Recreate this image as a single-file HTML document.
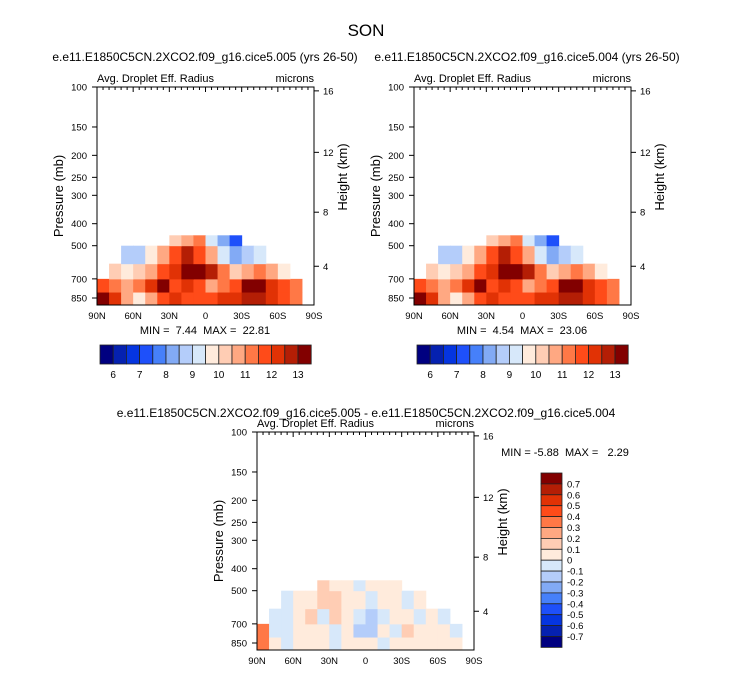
<!DOCTYPE html>
<html><head><meta charset="utf-8">
<style>
html,body{margin:0;padding:0;background:#fff;}
svg{display:block;font-family:"Liberation Sans",Arial,sans-serif;}
</style></head>
<body>
<svg id="fig" width="733" height="673" viewBox="0 0 733 673" xmlns="http://www.w3.org/2000/svg">
<rect width="733" height="673" fill="#fff"/>
<text x="366" y="36" font-size="17" text-anchor="middle">SON</text>
<text x="205" y="61" font-size="12" text-anchor="middle">e.e11.E1850C5CN.2XCO2.f09_g16.cice5.005 (yrs 26-50)</text>
<text x="527" y="61" font-size="12" text-anchor="middle">e.e11.E1850C5CN.2XCO2.f09_g16.cice5.004 (yrs 26-50)</text>
<text x="366" y="417" font-size="12" text-anchor="middle">e.e11.E1850C5CN.2XCO2.f09_g16.cice5.005 - e.e11.E1850C5CN.2XCO2.f09_g16.cice5.004</text>
</svg>
<script>
// ---- data ----
const latEdges = [90,80,70,60,50,40,30,20,10,0,-10,-20,-30,-40,-50,-60,-70,-80,-90];
const presEdges = [912,800,700,600,500,450];
const latTicks = [90,60,30,0,-30,-60,-90];
const latTickLabels = ["90N","60N","30N","0","30S","60S","90S"];
const presTicks = [100,150,200,250,300,400,500,700,850];
const heightTicks = [4,8,12,16];
const heightTickPres = [616,356,194,104];
const absLevels = [6,6.5,7,7.5,8,8.5,9,9.5,10,10.5,11,11.5,12,12.5,13];
const absLabels = ["6","7","8","9","10","11","12","13"];
const diffLevels = [-0.7,-0.6,-0.5,-0.4,-0.3,-0.2,-0.1,0,0.1,0.2,0.3,0.4,0.5,0.6,0.7];
const palette = ["#000080","#0521b0","#0535e0","#1e50fa","#4680fa","#82aaf5","#b4cdfa","#d7e8fa","#ffebdc","#ffcdb4","#ffa882","#ff7846","#ff4b19","#e13205","#b41e05","#820000"];
const diffPalette = ["#820000","#b41e05","#e13205","#ff4b19","#ff7846","#ffa882","#ffcdb4","#ffebdc","#d7e8fa","#b4cdfa","#82aaf5","#4680fa","#1e50fa","#0535e0","#0521b0","#000080"];
const caseA_L0 = [13,12,10.5,9.5,10.5,11.5,12,11.5,11.5,11.5,12,12,12.5,12.5,12,11.5,11,null];
const caseA_L1 = [11.5,11,10.5,11,12,13,11.5,12,11.5,10.5,11,11.5,13,13,12,11.5,11,null];
const caseA_L2 = [null,10,9.5,10,10.5,11.5,12,13,13,12.5,11,10,10.5,11,10.5,9.5,null,null];
const caseA_L3 = [null,null,8.5,8.5,9.5,10.5,11.5,12.5,11.5,10.5,9,8,8.5,9,null,null,null,null];
const caseA_L4 = [null,null,null,null,null,null,10,10.5,11,9,8,7,null,null,null,null,null,null];
const caseB_L0 = [13,12,10.5,9.5,10.5,11.5,12,11.5,11.5,11.5,12,12,12.5,12.5,12,11.5,11,null];
const caseB_L1 = [11.5,11,10.5,11,12,13,11.5,12,11.5,10.5,11,11.5,13,13,12,11.5,11,null];
const caseB_L2 = [null,10,9.5,10,10.5,11.5,12,13,13,12.5,11,10,10.5,11,10.5,9.5,null,null];
const caseB_L3 = [null,null,8.5,8.5,9.5,10.5,11.5,12.5,11.5,10.5,9,8,8.5,9,null,null,null,null];
const caseB_L4 = [null,null,null,null,null,null,10,10.5,11,9,8,7,null,null,null,null,null,null];
const diff_L0 = [0.3,0.05,-0.05,0.05,0.05,0.05,-0.05,0.05,0.05,0.05,-0.05,0.05,0.05,0.05,0.05,0.05,0.05,null];
const diff_L1 = [0.3,-0.05,-0.05,0.05,0.05,0.05,-0.05,0.05,-0.2,-0.15,0.05,-0.05,0.1,0.05,0.05,0.05,-0.05,null];
const diff_L2 = [null,-0.1,-0.05,0.05,0.15,-0.05,0.1,0.05,-0.1,-0.2,-0.05,0.05,0.05,-0.05,0.05,-0.05,null,null];
const diff_L3 = [null,null,-0.05,0.05,0.05,0.1,0.1,0.05,0.05,-0.1,0.05,0.05,-0.05,0.05,null,null,null,null];
const diff_L4 = [null,null,null,null,null,0.1,0.05,0.05,-0.05,0.05,0.05,0.05,null,null,null,null,null,null];
const caseA = [caseA_L0,caseA_L1,caseA_L2,caseA_L3,caseA_L4];
const caseB = [caseB_L0,caseB_L1,caseB_L2,caseB_L3,caseB_L4];
const diffData = [diff_L0,diff_L1,diff_L2,diff_L3,diff_L4];

const NS="http://www.w3.org/2000/svg";
const svg=document.getElementById('fig');
function mk(tag,attrs,parent){const e=document.createElementNS(NS,tag);for(const k in attrs)e.setAttribute(k,attrs[k]);(parent||svg).appendChild(e);return e;}
function txt(x,y,s,size,anchor,parent){const t=mk('text',{x:x,y:y,'font-size':size,'text-anchor':anchor||'start'},parent);t.textContent=s;return t;}
function colorFor(v,levels,pal){let i=0;while(i<levels.length&&v>=levels[i])i++;return pal[i];}
function colorForDiff(v){let i=0;while(i<diffLevels.length&&v>=diffLevels[i])i++;return diffPalette[15-i];}

function panel(x0,y0,name,data,colorFn,minmax,mmx,mmy){
  const w=217,k=98.6,h=218;
  const xs=lat=>x0+(90-lat)/180*w;
  const ys=p=>y0+Math.log(p/100)*k;
  const g=mk('g',{});
  
  
  for(let i=0;i<data.length;i++){
    for(let j=0;j<data[i].length;j++){
      const v=data[i][j]; if(v===null)continue;
      const xa=xs(latEdges[j]),xb=xs(latEdges[j+1]);
      const ya=ys(presEdges[i+1]),yb=Math.min(ys(presEdges[i]),y0+h);
      const r=mk('rect',{x:xa,y:ya,width:xb-xa+0.5,height:yb-ya+0.5,fill:colorFn(v)},g);
      
      
    }
  }
  const fr=mk('rect',{x:x0,y:y0,width:w,height:h,fill:'none',stroke:'#000','stroke-width':1},g);
  
  
  presTicks.forEach((p,i)=>{
    const y=ys(p);
    mk('line',{x1:x0-5,x2:x0,y1:y,y2:y,stroke:'#000'},g);
    const t=txt(x0-10,y+3.5,String(p),9.5,'end',g);
    
    
  });
  heightTicks.forEach((z,i)=>{
    const y=ys(heightTickPres[i]);
    mk('line',{x1:x0+w,x2:x0+w+5,y1:y,y2:y,stroke:'#000'},g);
    const t=txt(x0+w+9,y+3.5,String(z),9.5,'start',g);
    
    
  });
  for(let lat=85;lat>=-85;lat-=5){
    const x=xs(lat);
    mk('line',{x1:x,x2:x,y1:y0,y2:y0+(lat%30===0?5:3),stroke:'#000'},g);
  }
  latTicks.forEach((lat,i)=>{
    const t=txt(xs(lat),y0+h+14,latTickLabels[i],9.5,'middle',g);
    
    
  });
  let t=txt(x0,y0-5,'Avg. Droplet Eff. Radius',11,'start',g);
  
  
  t=txt(x0+w,y0-5,'microns',11,'end',g);
  
  
  t=mk('text',{x:0,y:0,'font-size':13,'text-anchor':'middle',transform:`translate(${x0-34},${y0+109}) rotate(-90)`},g);
  t.textContent='Pressure (mb)';
  
  
  t=mk('text',{x:0,y:0,'font-size':13,'text-anchor':'middle',transform:`translate(${x0+w+33},${y0+90}) rotate(-90)`},g);
  t.textContent='Height (km)';
  
  
  t=txt(mmx,mmy,minmax,11,'middle',g);
  t.setAttribute('style','white-space:pre');
  
  
}
const absColor=v=>colorFor(v,absLevels,palette);
panel(97,87,'left-panel',caseA,absColor,'MIN =  7.44  MAX =  22.81',205,334);
panel(414,87,'right-panel',caseB,absColor,'MIN =  4.54  MAX =  23.06',522,334);
panel(257,432,'diff-panel',diffData,colorForDiff,'MIN = -5.88  MAX =   2.29',565,456);

function hbar(x0,y0,name){
  const g=mk('g',{});
  
  
  const bw=13.2,bh=19;
  palette.forEach((c,i)=>{
    const r=mk('rect',{x:x0+i*bw,y:y0,width:bw,height:bh,fill:c,stroke:'#222','stroke-width':0.8},g);
    
    
  });
  absLevels.forEach((lv,i)=>{
    if(i%2!==0)return;
    const t=txt(x0+(i+1)*bw,y0+bh+14,absLabels[i/2],10,'middle',g);
    
    
  });
}
hbar(100,345,'left-colorbar');
hbar(417,345,'right-colorbar');

(function(){
  const g=mk('g',{});
  
  
  const x0=541,y0=473,bw=21,bh=10.9;
  diffPalette.forEach((c,i)=>{
    const r=mk('rect',{x:x0,y:y0+i*bh,width:bw,height:bh,fill:c,stroke:'#222','stroke-width':0.8},g);
    
    
  });
  for(let i=0;i<diffLevels.length;i++){
    const lv=diffLevels[diffLevels.length-1-i];
    const s=Math.abs(lv)<1e-9?'0':lv.toFixed(1);
    const t=txt(x0+bw+5,y0+(i+1)*bh+3.5,s,9.5,'start',g);
    
    
  }
})();
</script>
</body></html>
